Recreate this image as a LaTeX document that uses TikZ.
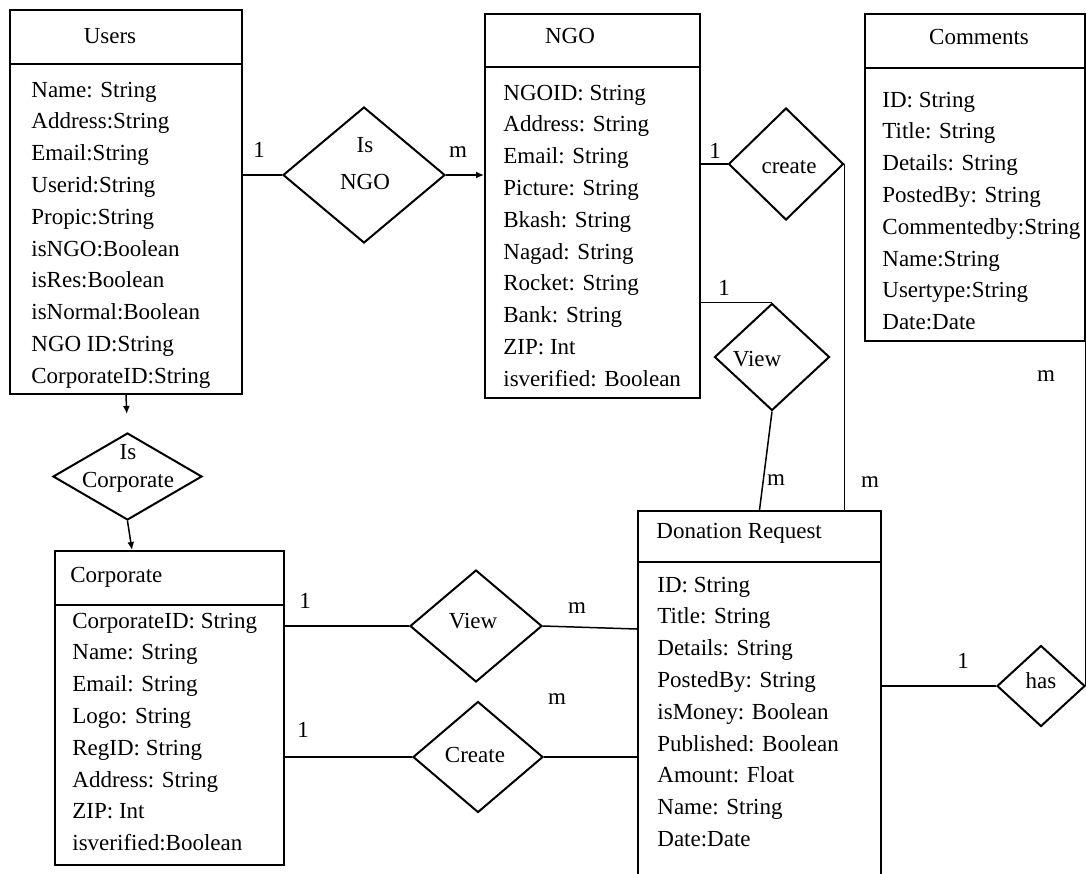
\documentclass[tikz,border=0pt]{standalone}
\usepackage{fontspec}
\setmainfont{Liberation Serif}
\usetikzlibrary{shapes.geometric,arrows.meta}

\tikzset{
  entity/.style={draw, line width=1pt, inner sep=0pt},
  relation/.style={draw, diamond, line width=1pt, inner sep=0pt},
  attr/.style={anchor=base west, inner sep=0pt},
  lbl/.style={anchor=base, inner sep=0pt},
  link/.style={line width=.75pt},
  tip/.style={-{Latex[length=4pt,width=3.5pt]}},
}

\begin{document}
\begin{tikzpicture}[x=.5pt,y=-.5pt,font=\fontsize{11.5}{14}\selectfont]
\useasboundingbox (0,0) rectangle (1086,873);
\clip (0,0) rectangle (1086,873);
\node[entity, minimum width=116pt, minimum height=192pt] (users) at (126,202) {};
\draw[line width=1pt] (users.west |- 0,64) -- (users.east |- 0,64);
\node[lbl] (users-t) at (110,43) {Users};
\node[attr] (u1) at (31,97) {Name: String};
\node[attr] (u2) at (31,128.8) {Address:String};
\node[attr] (u3) at (31,160.6) {Email:String};
\node[attr] (u4) at (31,192.4) {Userid:String};
\node[attr] (u5) at (31,224.2) {Propic:String};
\node[attr] (u6) at (31,256) {isNGO:Boolean};
\node[attr] (u7) at (31,287.8) {isRes:Boolean};
\node[attr] (u8) at (31,319.6) {isNormal:Boolean};
\node[attr] (u9) at (31,351.4) {NGO ID:String};
\node[attr] (u10) at (31,383.2) {CorporateID:String};
\node[entity, minimum width=107.5pt, minimum height=192pt] (ngo) at (592.5,206) {};
\draw[line width=1pt] (ngo.west |- 0,67) -- (ngo.east |- 0,67);
\node[lbl] (ngo-t) at (570,43) {NGO};
\node[attr] (n1) at (503,100) {NGOID: String};
\node[attr] (n2) at (503,131.8) {Address: String};
\node[attr] (n3) at (503,163.6) {Email: String};
\node[attr] (n4) at (503,195.4) {Picture: String};
\node[attr] (n5) at (503,227.2) {Bkash: String};
\node[attr] (n6) at (503,259) {Nagad: String};
\node[attr] (n7) at (503,290.8) {Rocket: String};
\node[attr] (n8) at (503,322.6) {Bank: String};
\node[attr] (n9) at (503,354.4) {ZIP: Int};
\node[attr] (n10) at (503,386.2) {isverified: Boolean};
\node[entity, minimum width=110pt, minimum height=163.5pt] (comments) at (975,177.5) {};
\draw[line width=1pt] (comments.west |- 0,68) -- (comments.east |- 0,68);
\node[lbl] (comments-t) at (979,44) {Comments};
\node[attr] (c1) at (882,107) {ID: String};
\node[attr] (c2) at (882,138.8) {Title: String};
\node[attr] (c3) at (882,170.6) {Details: String};
\node[attr] (c4) at (882,202.4) {PostedBy: String};
\node[attr] (c5) at (882,234.2) {Commentedby:String};
\node[attr] (c6) at (882,266) {Name:String};
\node[attr] (c7) at (882,297.8) {Usertype:String};
\node[attr] (c8) at (882,329.6) {Date:Date};
\node[entity, minimum width=114.5pt, minimum height=157pt] (corp) at (169.5,708) {};
\draw[line width=1pt] (corp.west |- 0,605) -- (corp.east |- 0,605);
\node[attr] (corp-t) at (70,582) {Corporate};
\node[attr] (k1) at (72,628) {CorporateID: String};
\node[attr] (k2) at (72,659.8) {Name: String};
\node[attr] (k3) at (72,691.6) {Email: String};
\node[attr] (k4) at (72,723.4) {Logo: String};
\node[attr] (k5) at (72,755.2) {RegID: String};
\node[attr] (k6) at (72,787) {Address: String};
\node[attr] (k7) at (72,818.8) {ZIP: Int};
\node[attr] (k8) at (72,850.6) {isverified:Boolean};
\node[entity, minimum width=121.5pt, minimum height=194.5pt] (dr) at (759.5,705.5) {};
\draw[line width=1pt] (dr.west |- 0,562) -- (dr.east |- 0,562);
\node[attr] (dr-t) at (656,538) {Donation Request};
\node[attr] (d1) at (657,592) {ID: String};
\node[attr] (d2) at (657,623.8) {Title: String};
\node[attr] (d3) at (657,655.6) {Details: String};
\node[attr] (d4) at (657,687.4) {PostedBy: String};
\node[attr] (d5) at (657,719.2) {isMoney: Boolean};
\node[attr] (d6) at (657,751) {Published: Boolean};
\node[attr] (d7) at (657,782.8) {Amount: Float};
\node[attr] (d8) at (657,814.6) {Name: String};
\node[attr] (d9) at (657,846.4) {Date:Date};
\node[relation, minimum width=81pt, minimum height=68pt] (isngo) at (364,175) {};
\node[align=center, inner sep=0pt] (isngo-t) at (365,164) {Is\\[4.5pt]NGO};
\node[relation, minimum width=74.5pt, minimum height=43.5pt] (iscorp) at (127.5,476.5) {};
\node[align=center, inner sep=0pt] (iscorp-t) at (128,468) {Is\\Corporate};
\node[relation, minimum width=57.5pt, minimum height=56pt] (create) at (786,164) {};
\node[lbl] (create-t) at (789,173) {create};
\node[relation, minimum width=57.5pt, minimum height=53.5pt] (viewngo) at (772,357) {};
\node[lbl] (viewngo-t) at (757,366) {View};
\node[relation, minimum width=66pt, minimum height=56pt] (viewcorp) at (476,626) {};
\node[lbl] (viewcorp-t) at (473,628) {View};
\node[relation, minimum width=65pt, minimum height=55.5pt] (createcorp) at (478,757) {};
\node[lbl] (createcorp-t) at (475,762) {Create};
\node[relation, minimum width=44pt, minimum height=40.5pt] (has) at (1041,686) {};
\node[lbl] (has-t) at (1041,688) {has};
\draw[link] (users.east |- isngo.west) -- (isngo.west);
\draw[link, tip] (isngo.east) -- (isngo.east -| ngo.west);
\draw[link] (create.west -| ngo.east) -- (create.west);
\draw[link] (create.east) -- (create.east |- dr.north);
\draw[link] (viewngo.north -| ngo.east) -- (viewngo.north);
\draw[link] (viewngo.south) -- (dr.north);
\draw[link] (has.east |- comments.south) -- (has.east);
\draw[link] (dr.east |- has.west) -- (has.west);
\draw[link, tip, shorten >=9pt] (users.south) -- (iscorp.north);
\draw[link, tip] (iscorp.south) -- ([xshift=39pt]corp.north west);
\draw[link] (corp.east |- viewcorp.west) -- (viewcorp.west);
\draw[link] (viewcorp.east) -- ([yshift=-59.5pt]dr.north west);
\draw[link] (corp.east |- createcorp.west) -- (createcorp.west);
\draw[link] (createcorp.east) -- ([yshift=-123.5pt]dr.north west);
\node[lbl] (c-un) at (259,157) {1};
\node[lbl] (c-nu) at (458,157) {m};
\node[lbl] (c-nc) at (715,158) {1};
\node[lbl] (c-nv) at (724,295) {1};
\node[lbl] (c-vd) at (776,485) {m};
\node[lbl] (c-cd) at (870,487) {m};
\node[lbl] (c-hc) at (1046,381) {m};
\node[lbl] (c-hd) at (963,668) {1};
\node[lbl] (c-kv) at (305,608) {1};
\node[lbl] (c-vk) at (577,613) {m};
\node[lbl] (c-kc) at (303,737) {1};
\node[lbl] (c-ck) at (557,704) {m};
\end{tikzpicture}
\end{document}
